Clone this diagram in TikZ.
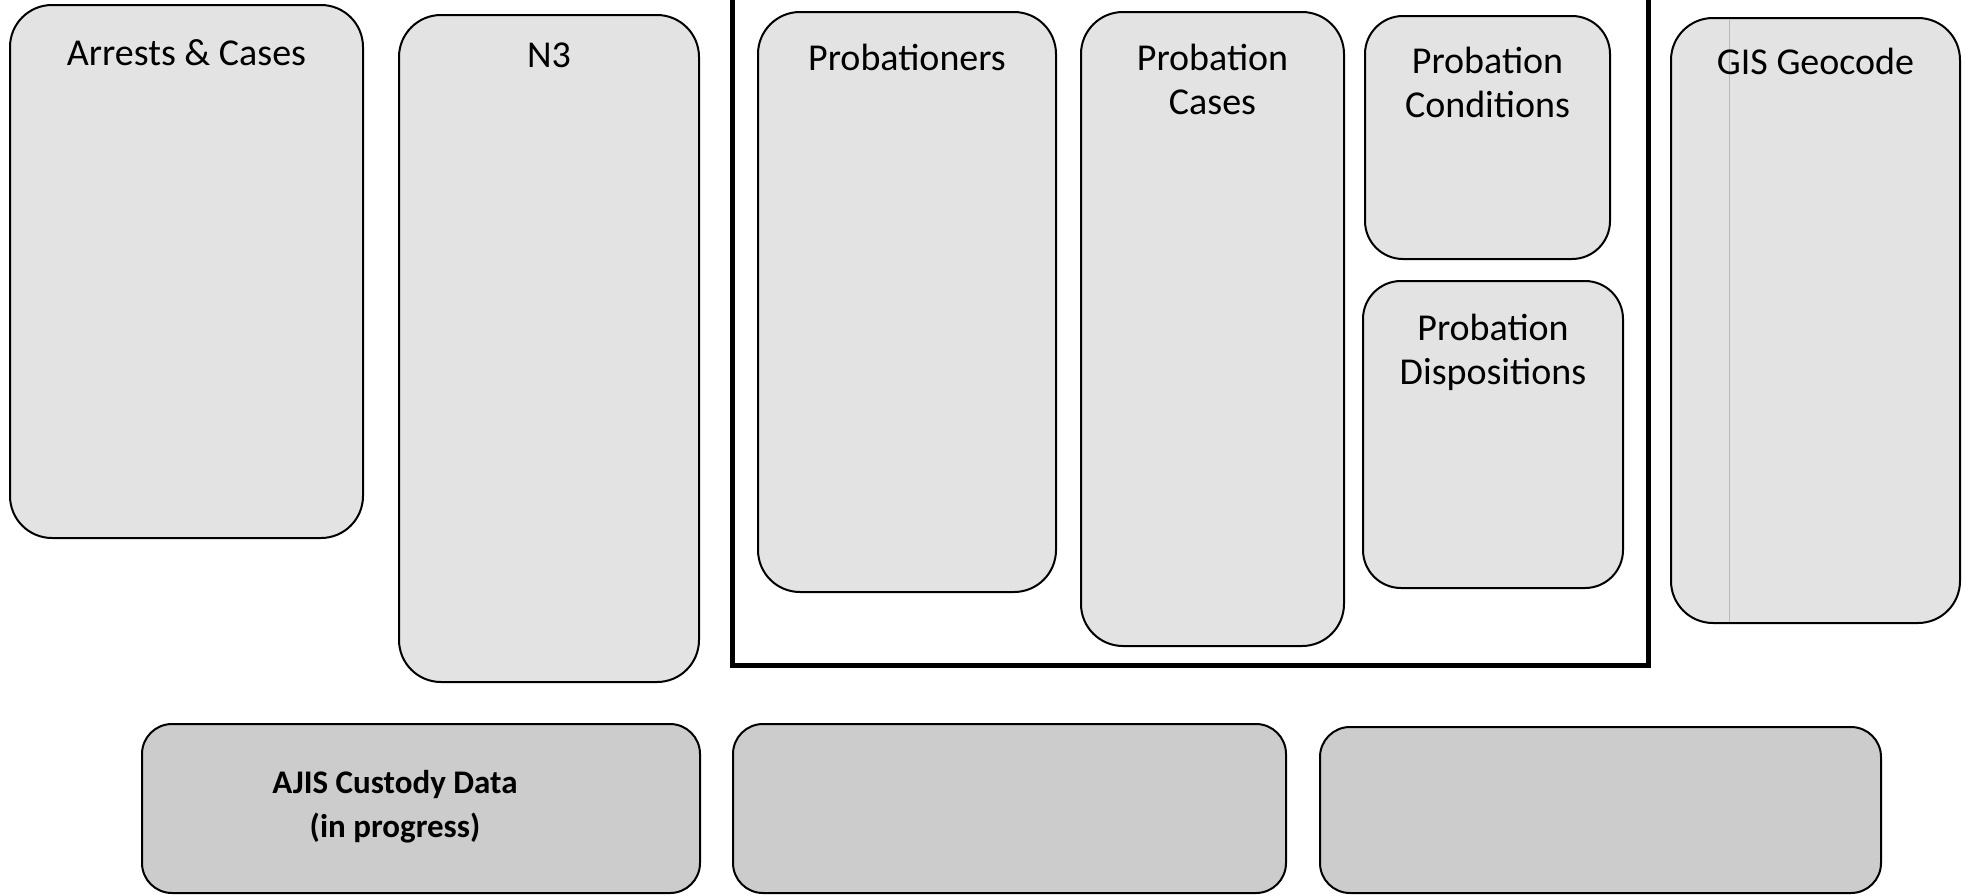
\documentclass[tikz,border=0pt]{standalone}
\usepackage{fontspec}
\setmainfont{Carlito}
\begin{document}
\begin{tikzpicture}[x=1pt,y=-1pt,
  box/.style={draw=black, line width=2pt, fill=lightbox, rounded corners=42pt, inner sep=0pt},
  lowbox/.style={draw=black, line width=2pt, fill=darkbox, rounded corners=30pt, inner sep=0pt},
  lbl/.style={anchor=base, align=center, font=\fontsize{38}{44}\selectfont, inner sep=0pt},
  blbl/.style={anchor=center, align=center, font=\fontsize{33}{44}\selectfont\bfseries, inner sep=0pt},
  frame/.style={draw=black, line width=5pt},
  scanline/.style={draw=gray!55, line width=0.8pt}]
\definecolor{lightbox}{gray}{0.89}
\definecolor{darkbox}{gray}{0.80}
\useasboundingbox (0,0) rectangle (1979,895);
% outer frame (top runs off the page)
\coordinate (ftl) at (732,-20);
\coordinate (fbl) at (732,665);
\coordinate (fbr) at (1648,665);
\coordinate (ftr) at (1648,-20);
\draw[frame] (ftl) -- (fbl) -- (fbr) -- (ftr);
% upper boxes
\node[box, minimum width=353, minimum height=533] (ac) at (186.5,271.5) {};
\node[box, minimum width=300, minimum height=667] (n3) at (549,348.5) {};
\node[box, minimum width=298, minimum height=580] (pr) at (907,302) {};
\node[box, minimum width=263, minimum height=634] (pc) at (1212.5,329) {};
\node[box, minimum width=245, minimum height=243, rounded corners=38pt] (pco) at (1487.5,137.5) {};
\node[box, minimum width=260, minimum height=307, rounded corners=38pt] (pd) at (1493,434.5) {};
\node[box, minimum width=289, minimum height=605] (gis) at (1815.5,320.5) {};
% faint scan line inside GIS box
\coordinate (gst) at (1729,19);
\coordinate (gsb) at (1729,622);
\draw[scanline] (gst) -- (gsb);
% lower boxes
\node[lowbox, minimum width=558, minimum height=169] (aj) at (421,808.5) {};
\node[lowbox, minimum width=553, minimum height=169] (mid) at (1009.5,808.5) {};
\node[lowbox, minimum width=561, minimum height=166] (rgt) at (1600.5,810) {};
% labels
\node[lbl] (tac) at (186.5,65) {Arrests \& Cases};
\node[lbl] (tn3) at (549,67) {N3};
\node[lbl] (tpr) at (907,70) {Probationers};
\node[lbl] (tpc) at (1212.5,114) {Probation\\Cases};
\node[lbl] (tpco) at (1487.5,117) {Probation\\Conditions};
\node[lbl] (tpd) at (1493,384) {Probation\\Dispositions};
\node[lbl] (tgis) at (1815.5,74) {GIS Geocode};
\node[blbl] (taj) at (395,807) {AJIS Custody Data\\(in progress)};
\end{tikzpicture}
\end{document}
